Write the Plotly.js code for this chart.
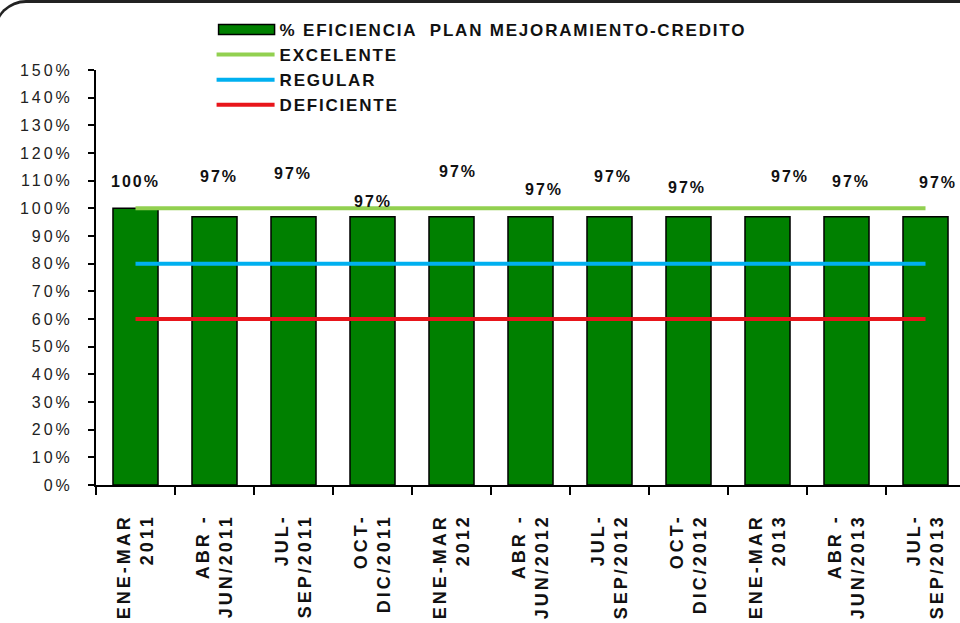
<!DOCTYPE html>
<html>
<head>
<meta charset="utf-8">
<script src="https://cdn.plot.ly/plotly-3.0.1.min.js"></script>
<style>
  html, body { margin: 0; padding: 0; overflow: hidden; background: #fff; }
  #marco {
    position: absolute; left: -6px; top: 0;
    width: 990px; height: 660px;
    border-top: 3px solid #222; border-left: 2px solid #222;
    border-top-left-radius: 32px;
  }
  #grafico { position: absolute; left: 0; top: 0; }
  /* el original sale estirado en horizontal */
  #grafico .ytick text { letter-spacing: 3px; }
  #grafico .xtick text { letter-spacing: 3px; }
  #grafico .legendtext { letter-spacing: 1.8px; }
  #grafico .annotation-text { letter-spacing: 2px; }
</style>
</head>
<body>
<div id="marco"></div>
<div id="grafico"></div>
<script>
// Periodos (eje X)
const periodos = [
    "ENE-MAR<br>2011", "ABR -<br>JUN/2011", "JUL-<br>SEP/2011", "OCT-<br>DIC/2011",
    "ENE-MAR<br>2012", "ABR -<br>JUN/2012", "JUL-<br>SEP/2012", "OCT-<br>DIC/2012",
    "ENE-MAR<br>2013", "ABR -<br>JUN/2013", "JUL-<br>SEP/2013"
];
// % eficiencia por periodo
const eficiencia = [1.00, 0.97, 0.97, 0.97, 0.97, 0.97, 0.97, 0.97, 0.97, 0.97, 0.97];
const etiquetas = ["100%", "97%", "97%", "97%", "97%", "97%", "97%", "97%", "97%", "97%", "97%"];
// Niveles de referencia
const excelente = [1, 1, 1, 1, 1, 1, 1, 1, 1, 1, 1];
const regular = [0.8, 0.8, 0.8, 0.8, 0.8, 0.8, 0.8, 0.8, 0.8, 0.8, 0.8];
const deficiente = [0.6, 0.6, 0.6, 0.6, 0.6, 0.6, 0.6, 0.6, 0.6, 0.6, 0.6];

// desplazamiento de las etiquetas (px), movidas a mano en el original
const despY = [27, 40, 43, 15, 45, 27, 40, 29, 40, 35, 34];
const despX = [0, 4, -1, 0, 6, 13, 3, -2, 22, 4, 12];

const fuente = "Liberation Sans, Arial, sans-serif";

const anotaciones = periodos.map((p, i) => ({
    x: p,
    y: eficiencia[i],
    text: "<b>" + etiquetas[i] + "</b>",
    showarrow: false,
    yanchor: "middle",
    yshift: despY[i],
    xshift: despX[i],
    font: { family: fuente, size: 16, color: "#111" }
}));

Plotly.newPlot("grafico", [
    {
        type: "bar",
        x: periodos,
        y: eficiencia,
        name: "% EFICIENCIA  PLAN MEJORAMIENTO-CREDITO",
        marker: { color: "#008000", line: { color: "#000", width: 1.5 } }
    },
    {
        x: periodos,
        y: excelente,
        mode: "lines",
        name: "EXCELENTE",
        line: { color: "#92D050", width: 4 }
    },
    {
        x: periodos,
        y: regular,
        mode: "lines",
        name: "REGULAR",
        line: { color: "#00B0F0", width: 4 }
    },
    {
        x: periodos,
        y: deficiente,
        mode: "lines",
        name: "DEFICIENTE",
        line: { color: "#E8151B", width: 4 }
    }
], {
    width: 980,
    height: 623,
    margin: { l: 96, r: 15, t: 70, b: 138 },
    paper_bgcolor: "rgba(0,0,0,0)",
    plot_bgcolor: "rgba(0,0,0,0)",
    bargap: 0.43,
    showlegend: true,
    legend: {
        x: 0.133, y: 1.14, xanchor: "left", yanchor: "top",
        bgcolor: "rgba(0,0,0,0)",
        font: { family: fuente, size: 17, color: "#111", weight: "bold" },
        itemwidth: 58
    },
    xaxis: {
        type: "category",
        range: [-0.5, 10.5],
        showline: true, linecolor: "#000", linewidth: 2,
        ticks: "outside", tickson: "boundaries", ticklen: 8, tickwidth: 2, tickcolor: "#000",
        tickangle: -90,
        ticklabelstandoff: 20,
        tickfont: { family: fuente, size: 18, color: "#111", weight: "bold" },
        showgrid: false, zeroline: false
    },
    yaxis: {
        range: [0, 1.5],
        dtick: 0.1,
        tickformat: ".0%",
        showline: true, linecolor: "#000", linewidth: 2,
        ticks: "outside", ticklen: 6, tickwidth: 2, tickcolor: "#000",
        ticklabelstandoff: 12,
        tickfont: { family: fuente, size: 16, color: "#222" },
        showgrid: false, zeroline: false
    },
    annotations: anotaciones
}, { displayModeBar: false, staticPlot: true }).then(gd => {
    // simbolo de la barra en la leyenda: rectangulo ancho como en Excel
    const simbolo = gd.querySelector(".legend .traces .legendpoints path");
    if (simbolo) simbolo.setAttribute("d", "M-27,-5H29V5H-27Z");
    // el espaciado de letras hace el texto mas ancho que el recorte de la leyenda
    gd.querySelectorAll(".legend [clip-path]").forEach(el => el.removeAttribute("clip-path"));
});
</script>
</body>
</html>
